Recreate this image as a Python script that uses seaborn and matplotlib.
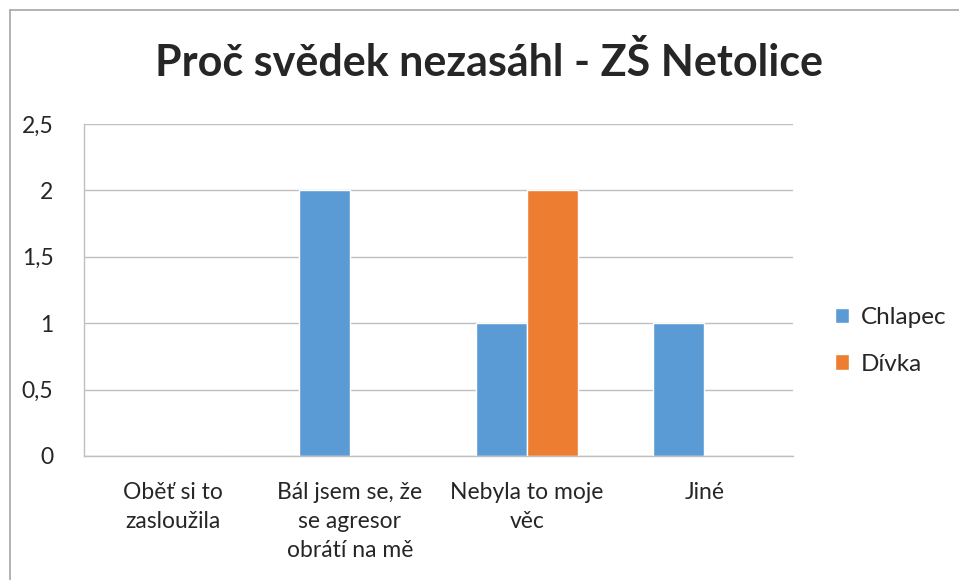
import pandas as pd
import numpy as np
import seaborn as sns
import matplotlib.pyplot as plt
from matplotlib.lines import Line2D

categories = ["Oběť si to\nzasloužila", "Bál jsem se, že\nse agresor\nobrátí na mě",
              "Nebyla to moje\nvěc", "Jiné"]
chlapec = [0, 2, 1, 1]
divka = [0, 0, 2, 0]
series = ["Chlapec", "Dívka"]
yticks = [0, 0.5, 1, 1.5, 2, 2.5]
ylabels = ["0", "0,5", "1", "1,5", "2", "2,5"]

df = pd.DataFrame({
    "kat": categories * 2,
    "pohlavi": [series[0]] * 4 + [series[1]] * 4,
    "pocet": chlapec + divka,
})

sns.set_theme(style="white")
plt.rcParams['font.family'] = ['Lato', 'DejaVu Sans']

W, H = 959, 580
fig = plt.figure(figsize=(W / 100, H / 100), dpi=100)
ax = fig.add_axes([84 / W, (H - 456) / H, (793 - 84) / W, (456 - 124) / H])

sns.barplot(data=df, x="kat", y="pocet", hue="pohlavi", order=categories,
            hue_order=series, palette=["#5B9BD5", "#ED7D31"], width=0.575,
            saturation=1, ax=ax, legend=True)

ax.set_ylim(0, 2.5)
ax.set_yticks(yticks)
ax.set_yticklabels(ylabels, fontsize=16.5)
ax.tick_params(axis='x', labelsize=16.5, pad=19, length=0)
ax.tick_params(axis='y', pad=22, length=0)
for t in ax.get_xticklabels():
    t.set_linespacing(1.45)
ax.set_xlabel("")
ax.set_ylabel("")
ax.yaxis.grid(True, color="#BFBFBF", linewidth=1)
ax.set_axisbelow(True)
for s in ["top", "right"]:
    ax.spines[s].set_visible(False)
ax.spines["left"].set_color("#BFBFBF")
ax.spines["bottom"].set_color("#BFBFBF")
ax.spines["left"].set_linewidth(1)
ax.spines["bottom"].set_linewidth(1)

fig.text(489 / W, 1 - 62 / H, "Proč svědek nezasáhl - ZŠ Netolice", ha="center",
         va="center", fontsize=31, fontweight="bold")

leg = ax.legend(loc="center left", bbox_to_anchor=(813 / W, 1 - 341 / H),
                bbox_transform=fig.transFigure, frameon=False,
                fontsize=17.5, handlelength=0.6, handleheight=0.6, labelspacing=1.05,
                handletextpad=0.45)

# chart frame (cropped at right and bottom)
fig.add_artist(Line2D([10 / W, 1], [1 - 10 / H, 1 - 10 / H], color="#A6A6A6", lw=1.2))
fig.add_artist(Line2D([10 / W, 10 / W], [0, 1 - 10 / H], color="#A6A6A6", lw=1.2))

fig.savefig("out.png", dpi=100)
